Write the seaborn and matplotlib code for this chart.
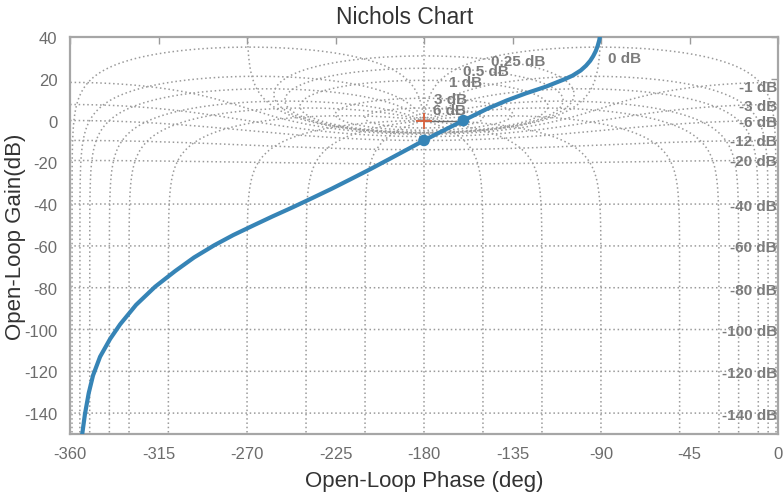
import numpy as np
import pandas as pd
import matplotlib
matplotlib.use("Agg")
import matplotlib.pyplot as plt
import seaborn as sns

# ---------------- data ----------------
# open-loop response (phase in deg, gain in dB)
phase_deg = [-354.0, -352.4, -350.5, -348.3, -344.7, -339.6, -334.5, -326.4,
             -316.7, -306.5, -296.9, -286.7, -277.0, -266.8, -257.1, -247.0,
             -237.3, -227.1, -217.4, -207.2, -197.6, -187.9, -180.0, -169.6,
             -160.0, -148.2, -138.0, -128.3, -118.1, -108.5, -104.5, -100.3,
             -97.6, -95.5, -94.0, -92.7, -91.7, -90.9, -90.2]
gain_db = [-151.5, -140.5, -130.5, -122.0, -113.0, -104.5, -97.5, -88.2,
           -79.5, -72.0, -65.5, -59.7, -54.8, -50.2, -45.9, -41.6,
           -37.3, -32.7, -28.1, -23.2, -18.4, -13.5, -9.5, -4.5,
           0.0, 5.5, 9.6, 13.0, 16.2, 19.8, 21.5, 24.0,
           26.3, 28.6, 30.8, 33.2, 35.7, 38.4, 42.0]

# gain / phase margin points and the critical point
margin_phase = [-180.0, -160.0]
margin_gain = [-9.5, 0.0]
critical_phase = [-180.0]
critical_gain = [0.0]

# closed-loop grid levels
mag_levels_db = [6, 3, 1, 0.5, 0.25, 0, -1, -3, -6, -12, -20, -40, -60,
                 -80, -100, -120, -140]
cl_phase_levels = [-1, -5, -10, -20, -30, -50, -90, -120, -150, -180, -210,
                   -240, -270, -310, -330, -340, -350, -355, -359, -360]

pos_labels = ["6 dB", "3 dB", "1 dB", "0.5 dB", "0.25 dB", "0 dB"]
neg_labels = ["-1 dB", "-3 dB", "-6 dB", "-12 dB", "-20 dB", "-40 dB",
              "-60 dB", "-80 dB", "-100 dB", "-120 dB", "-140 dB"]

x_ticks = [-360, -315, -270, -225, -180, -135, -90, -45, 0]
y_ticks = [-140, -120, -100, -80, -60, -40, -20, 0, 20, 40]

GRID_COLOR = "#9a9a9a"
LINE_BLUE = "#3684b6"
LABEL_GRAY = "#7c7c7c"


def to_nichols(T):
    """closed-loop T -> open-loop (phase, gain), with breaks at phase wraps"""
    L = T / (1.0 - T)
    ph = np.mod(np.degrees(np.angle(L)), 360.0) - 360.0
    g = 20 * np.log10(np.abs(L))
    jumps = np.where(np.abs(np.diff(ph)) > 180)[0] + 1
    ph[jumps] = np.nan
    g[jumps] = np.nan
    return ph, g


sns.set_theme(style="white")
plt.rcParams["font.family"] = ["Liberation Sans", "DejaVu Sans"]
plt.rcParams["axes.unicode_minus"] = False

fig = plt.figure(figsize=(7.83, 5.02), dpi=100)
ax = fig.add_axes([70 / 783, 67 / 502, 708 / 783, 397 / 502])

dotted = dict(color=GRID_COLOR, lw=1.1, linestyle=(0, (1, 1.8)), zorder=1)

# constant closed-loop magnitude lines
psi = np.radians(np.linspace(-360, 0, 20001)[1:-1])
for m_db in mag_levels_db:
    m = 10 ** (m_db / 20)
    ph, g = to_nichols(m * np.exp(1j * psi))
    ax.plot(ph, g, **dotted)

# constant closed-loop phase lines
mags = np.logspace(-9, 5, 30000)
for p in cl_phase_levels:
    ph, g = to_nichols(mags * np.exp(1j * np.radians(p)))
    ax.plot(ph, g, **dotted)

# phase margin segment and critical point
ax.plot([critical_phase[0], margin_phase[1]], [critical_gain[0], margin_gain[1]],
        color="#6f6f6f", lw=1.0, zorder=3)
ax.plot(critical_phase, critical_gain, marker="+", color="#d9603b", ms=11,
        mew=1.3, ls="none", zorder=3)

# open-loop curve
curve = pd.DataFrame({"phase": phase_deg, "gain": gain_db})
sns.lineplot(data=curve, x="phase", y="gain", sort=False, color=LINE_BLUE,
             lw=3, ax=ax, zorder=4, solid_joinstyle="round",
             solid_capstyle="round")

sns.scatterplot(x=margin_phase, y=margin_gain, color=LINE_BLUE, s=70,
                edgecolor="none", ax=ax, zorder=5)

# grid labels
pos_xy = [(-175.2, 5.3), (-174.7, 10.1), (-167.5, 18.3), (-160.4, 23.6),
          (-146.1, 28.4), (-86.6, 29.8)]
for txt, (x, y) in zip(pos_labels, pos_xy):
    ax.text(x, y, txt, ha="left", va="center", fontsize=11, color=LABEL_GRAY,
            fontweight="bold", zorder=3)

neg_y = [16.3, 7.2, -0.5, -10.0, -19.2, -40.9, -60.6, -81.3, -100.5,
         -120.7, -140.9]
for txt, y in zip(neg_labels, neg_y):
    ax.text(-0.6, y, txt, ha="right", va="center", fontsize=11,
            color=LABEL_GRAY, fontweight="bold", zorder=3)

ax.set_xlim(-360, 0)
ax.set_ylim(-150, 40)
ax.set_xticks(x_ticks)
ax.set_yticks(y_ticks)
ax.tick_params(direction="in", top=True, right=True, length=5, width=1,
               color="#9a9a9a", labelsize=12, labelcolor="#6c6c6c", pad=9)
for sp in ax.spines.values():
    sp.set_color("#a6a6a6")
    sp.set_linewidth(1.6)

ax.set_title("Nichols Chart", fontsize=16.5, color="#333333", pad=10,
             x=0.473)
ax.set_xlabel("Open-Loop Phase (deg)", fontsize=16, color="#333333",
              labelpad=6)
ax.set_ylabel("Open-Loop Gain(dB)", fontsize=16, color="#333333")
ax.yaxis.set_label_coords(-0.062, 0.5)

fig.savefig("out.png", dpi=100)
